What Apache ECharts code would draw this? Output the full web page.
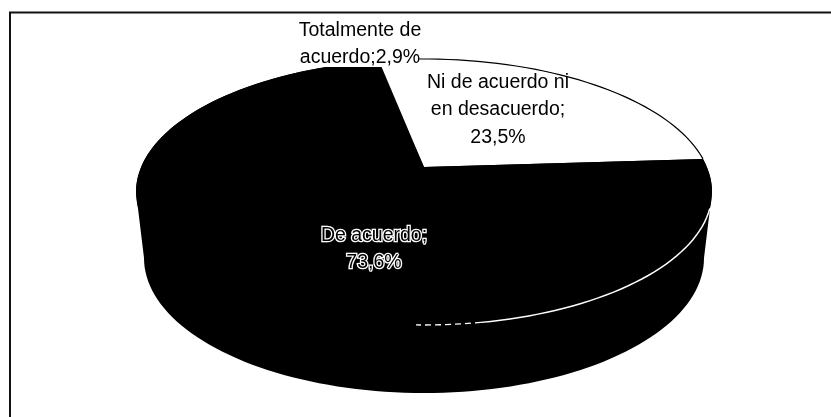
<!DOCTYPE html>
<html>
<head>
<meta charset="utf-8">
<style>
  html, body { margin: 0; padding: 0; background: #fff; }
  #main { width: 831px; height: 417px; }
</style>
<script src="https://cdn.jsdelivr.net/npm/echarts@6/dist/echarts.min.js"></script>
</head>
<body>
<div id="main"></div>
<script>
var categories = ["Ni de acuerdo ni en desacuerdo", "De acuerdo", "Totalmente de acuerdo"];
var values = [23.5, 73.6, 2.9];
var labelLines = [
  ["Ni de acuerdo ni", "en desacuerdo;", "23,5%"],
  ["De acuerdo;", "73,6%"],
  ["Totalmente de", "acuerdo;2,9%"]
];
var sliceColors = ["#fff", "#000", "#000"];

// geometria del pastel 3D
var top3d = { cx: 424, cy: 192, rx: 288, ry: 133, apexX: 424, apexY: 167 };
var bottom3d = { cx: 424, cy: 258, rx: 280, ry: 135 };
var startDeg = -99;
var blackTopY = 67;
var labelPos = [[498, 110], [374, 249], [360, 44]];
var total = values[0] + values[1] + values[2];

function ellipsePt(e, deg) {
  var r = deg * Math.PI / 180;
  return [e.cx + e.rx * Math.cos(r), e.cy + e.ry * Math.sin(r)];
}
function arcPts(e, from, to) {
  var pts = [], n = Math.ceil(Math.abs(to - from) / 2);
  for (var i = 0; i <= n; i++) pts.push(ellipsePt(e, from + (to - from) * i / n));
  return pts;
}
function sliceStart(idx) {
  var s = startDeg;
  for (var i = 0; i < idx; i++) s += values[i] / total * 360;
  return s;
}

function renderBody() {
  var pts = arcPts(top3d, 180, 360).concat(arcPts(bottom3d, 0, 180));
  // la parte de arriba queda tapada por el rotulo de Totalmente
  pts = pts.map(function (p) { return [p[0], Math.max(p[1], blackTopY)]; });
  return { type: "polygon", shape: { points: pts }, style: { fill: "#000" } };
}

function renderSlice(params, api) {
  var idx = params.dataIndex;
  var from = sliceStart(idx);
  var to = from + api.value(1) / total * 360;
  var pts = [[top3d.apexX, top3d.apexY]].concat(arcPts(top3d, from, to));
  if (idx !== 0) {
    pts = pts.map(function (p) { return [p[0], Math.max(p[1], blackTopY)]; });
  }
  var children = [{
    type: "polygon",
    shape: { points: pts },
    style: { fill: sliceColors[idx] }
  }];
  if (idx === 0) {
    // borde fino arriba del sector blanco
    children.push({
      type: "polyline",
      shape: { points: arcPts(top3d, from + 8, to) },
      style: { fill: null, stroke: "#000", lineWidth: 1.2 }
    });
  }
  if (idx === 1) {
    // filo blanco del borde frontal, punteado al final
    children.push({
      type: "polyline",
      shape: { points: arcPts(top3d, from + 21.5, from + 93) },
      style: { fill: null, stroke: "#fff", lineWidth: 1.5 }
    });
    children.push({
      type: "polyline",
      shape: { points: arcPts(top3d, from + 93, from + 106) },
      style: { fill: null, stroke: "#fff", lineWidth: 1.3, lineDash: [6, 4] }
    });
  }
  return { type: "group", children: children };
}

function renderLabel(params, api) {
  var idx = params.dataIndex;
  var style = {
    x: labelPos[idx][0], y: labelPos[idx][1],
    text: labelLines[idx].join("\n"),
    font: "19.5px 'Liberation Sans'",
    lineHeight: 27.5,
    align: "center", verticalAlign: "middle",
    fill: "#000"
  };
  if (idx === 1) {
    style.stroke = "#fff";
    style.lineWidth = 2.6;
    style.strokeFirst = true;
  }
  return { type: "text", style: style };
}

var data = categories.map(function (c, i) { return [c, values[i]]; });

var chart = echarts.init(document.getElementById("main"), null, { renderer: "canvas" });
chart.setOption({
  animation: false,
  backgroundColor: "#fff",
  xAxis: { show: false },
  yAxis: { show: false },
  graphic: [{
    type: "polyline",
    shape: { points: [[10, 417], [10, 12.5], [831, 12.5]] },
    style: { fill: null, stroke: "#111", lineWidth: 2 },
    z: 0
  }],
  series: [
    { type: "custom", coordinateSystem: "none", data: [[0]], renderItem: renderBody, z: 2 },
    { type: "custom", coordinateSystem: "none", data: data, encode: { value: 1 }, renderItem: renderSlice, z: 3 },
    { type: "custom", coordinateSystem: "none", data: data, encode: { value: 1 }, renderItem: renderLabel, z: 4 }
  ]
});
window.addEventListener("resize", chart.resize);
</script>
</body>
</html>
